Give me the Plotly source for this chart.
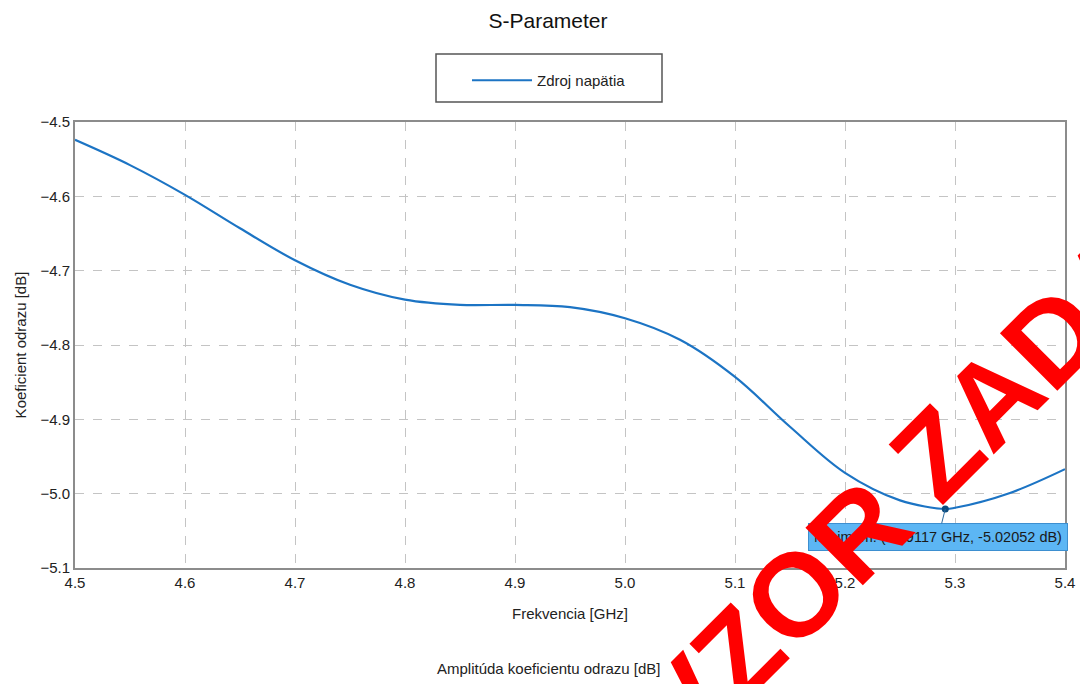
import plotly.graph_objects as go

freq_ghz = [4.50, 4.55, 4.60, 4.65, 4.70, 4.75, 4.80, 4.85, 4.90, 4.95, 5.00,
            5.05, 5.10, 5.15, 5.20, 5.25, 5.29117, 5.30, 5.35, 5.40]
s11_db = [-4.524, -4.558, -4.598, -4.643, -4.686, -4.719, -4.739, -4.746, -4.746,
          -4.749, -4.764, -4.793, -4.843, -4.910, -4.972, -5.009, -5.02052, -5.019,
          -4.999, -4.967]
min_x = 5.29117
min_y = -5.02052
series_name = "Zdroj napätia"
title_text = "S-Parameter"
x_title = "Frekvencia [GHz]"
y_title = "Koeficient odrazu [dB]"
caption = "Amplitúda koeficientu odrazu [dB]"
watermark = "VZOR ZADANIA"

FONT = "Liberation Sans, Arial, sans-serif"
L, R, T, B = 75, 15, 122, 116
PW, PH = 1080 - L - R, 684 - T - B


def px_x(p):
    return (p - L) / PW


def px_y(p):
    return (684 - B - p) / PH


fig = go.Figure()
fig.add_trace(go.Scatter(
    x=freq_ghz, y=s11_db, mode="lines", name=series_name,
    line=dict(color="#1c74c4", width=2.2, shape="spline", smoothing=1.0),
))
fig.add_trace(go.Scatter(
    x=[min_x], y=[min_y], mode="markers", showlegend=False,
    marker=dict(color="#0d4c7e", size=7),
))

axis_common = dict(
    showline=True, mirror=True, linecolor="#8c8c8c", linewidth=2,
    showgrid=True, gridcolor="#c4c4c4", griddash="dash", gridwidth=1,
    zeroline=False, ticks="", tickfont=dict(size=15, color="#222", family=FONT),
    tickformat=".1f", dtick=0.1, automargin=False,
)

fig.update_layout(
    width=1080, height=684,
    margin=dict(l=L, r=R, t=T, b=B),
    paper_bgcolor="white", plot_bgcolor="white",
    font=dict(family=FONT, color="#222"),
    title=dict(text=title_text, x=548 / 1080, xanchor="center", xref="container",
               y=1 - 21 / 684, yanchor="middle", yref="container",
               font=dict(size=21, color="#111", family=FONT)),
    xaxis=dict(range=[4.5, 5.4], tick0=4.5,
               title=dict(text=x_title, font=dict(size=15, color="#222"), standoff=18),
               **axis_common),
    yaxis=dict(range=[-5.1, -4.5], tick0=-5.1,
               title=dict(text=y_title, font=dict(size=15, color="#222"), standoff=10),
               **axis_common),
    showlegend=True,
    legend=dict(x=px_x(467), xanchor="left", y=px_y(64), yanchor="top",
                orientation="h", borderwidth=0,
                bgcolor="rgba(0,0,0,0)", font=dict(size=15, color="#222", family=FONT),
                itemwidth=60),
    shapes=[
        dict(type="rect", xref="paper", yref="paper",
             x0=px_x(436), x1=px_x(662), y0=px_y(102), y1=px_y(54),
             line=dict(color="#555", width=1.5), fillcolor="rgba(0,0,0,0)", layer="below"),
    ],
    annotations=[
        dict(x=min_x, y=min_y, xref="x", yref="y",
             text="Minimum: (5.29117 GHz, -5.02052 dB)",
             showarrow=True, arrowhead=0, arrowwidth=1, arrowcolor="#2a6aa0",
             ax=-7, ay=28, xanchor="center", yanchor="middle",
             bgcolor="#5cb6f4", bordercolor="#3d8fd0", borderwidth=1, borderpad=5,
             font=dict(size=14.5, color="#1a1a1a", family=FONT)),
        dict(x=px_x(548), y=px_y(668), xref="paper", yref="paper",
             text=caption, showarrow=False, xanchor="center", yanchor="middle",
             font=dict(size=15, color="#222", family=FONT)),
        dict(x=px_x(972), y=px_y(418), xref="paper", yref="paper",
             text="<b>" + watermark + "</b>", showarrow=False, textangle=-45,
             xanchor="center", yanchor="middle",
             font=dict(size=118, color="#ff0000", family=FONT)),
    ],
)

fig.write_html("out.html", config={"displayModeBar": False},
               post_script="document.body.style.margin='0px';document.body.style.overflow='hidden';")
